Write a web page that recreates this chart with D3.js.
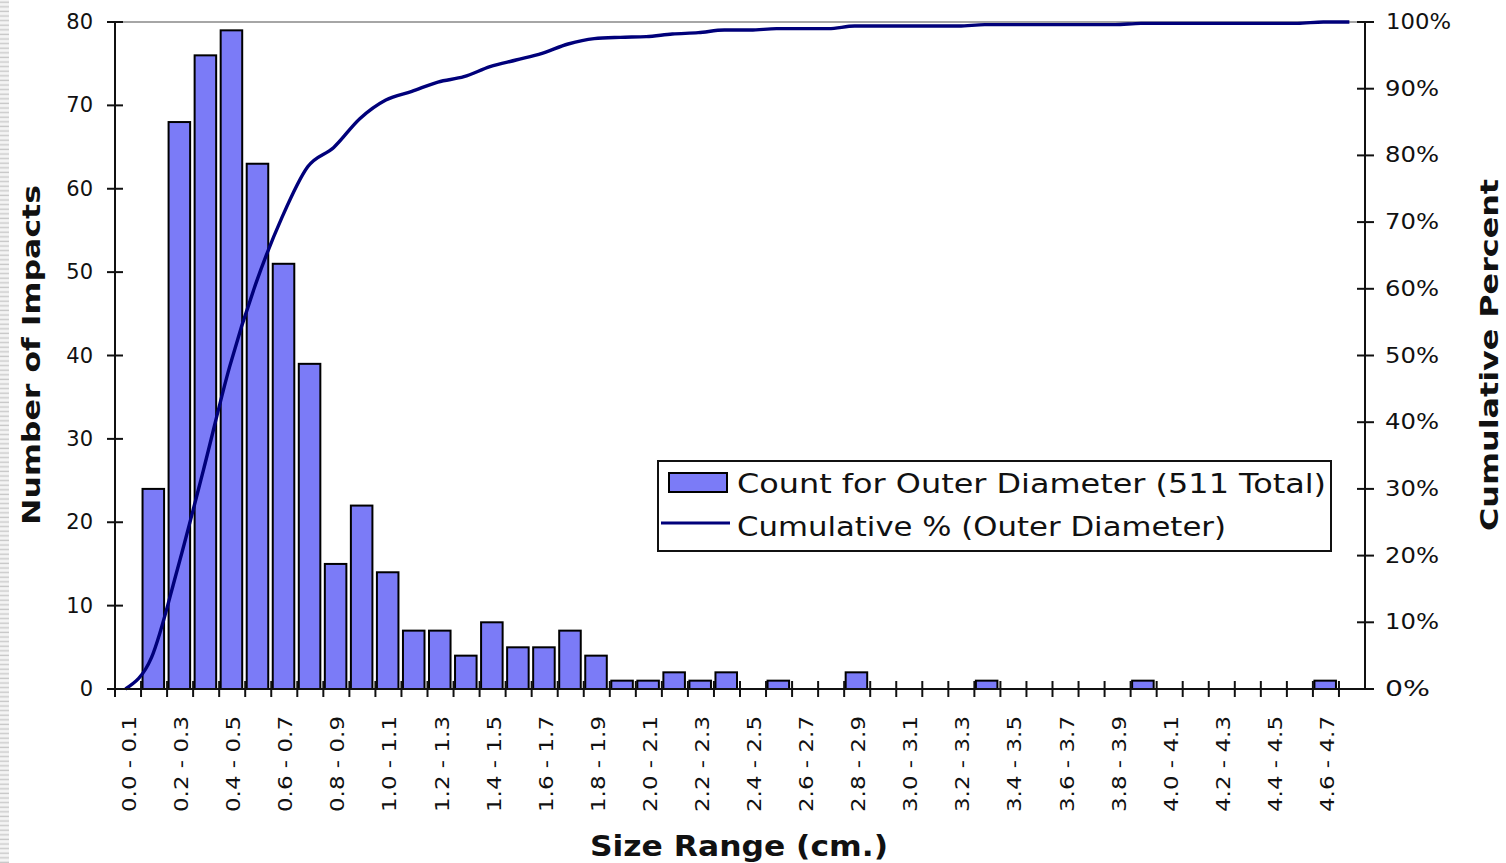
<!DOCTYPE html>
<html>
<head>
<meta charset="utf-8">
<script src="https://cdn.jsdelivr.net/npm/d3@7"></script>
<style>
  body { margin:0; background:#fff; }
  svg text { font-family: "DejaVu Sans", "Liberation Sans", sans-serif; fill:#111; }
</style>
</head>
<body>
<div id="canvas"></div>
<script>
// size ranges (cm), one per 0.1 cm bin
var categories = ['0.0 - 0.1','0.1 - 0.2','0.2 - 0.3','0.3 - 0.4','0.4 - 0.5','0.5 - 0.6','0.6 - 0.7','0.7 - 0.8',
    '0.8 - 0.9','0.9 - 1.0','1.0 - 1.1','1.1 - 1.2','1.2 - 1.3','1.3 - 1.4','1.4 - 1.5','1.5 - 1.6',
    '1.6 - 1.7','1.7 - 1.8','1.8 - 1.9','1.9 - 2.0','2.0 - 2.1','2.1 - 2.2','2.2 - 2.3','2.3 - 2.4',
    '2.4 - 2.5','2.5 - 2.6','2.6 - 2.7','2.7 - 2.8','2.8 - 2.9','2.9 - 3.0','3.0 - 3.1','3.1 - 3.2',
    '3.2 - 3.3','3.3 - 3.4','3.4 - 3.5','3.5 - 3.6','3.6 - 3.7','3.7 - 3.8','3.8 - 3.9','3.9 - 4.0',
    '4.0 - 4.1','4.1 - 4.2','4.2 - 4.3','4.3 - 4.4','4.4 - 4.5','4.5 - 4.6','4.6 - 4.7','4.7 - 4.8'];

// number of impacts per bin
var counts = [0,24,68,76,79,63,51,39,15,22,14,7,7,4,8,5,5,7,4,1,1,2,1,2,
    0,1,0,0,2,0,0,0,0,1,0,0,0,0,0,1,0,0,0,0,0,0,1,0];

// cumulative percent
var cumulative = [0,4.7,18.0,32.9,48.3,60.7,70.6,78.3,81.2,85.5,88.3,89.6,91.0,91.8,93.3,94.3,
    95.3,96.7,97.5,97.7,97.8,98.2,98.4,98.8,98.8,99.0,99.0,99.0,99.4,99.4,99.4,99.4,
    99.4,99.6,99.6,99.6,99.6,99.6,99.6,99.8,99.8,99.8,99.8,99.8,99.8,99.8,100,100];

var countTicks = [0,10,20,30,40,50,60,70,80];
var pctTicks = [0,10,20,30,40,50,60,70,80,90,100];

var W = 1506, H = 863;
var m = {t:22, r:141, b:174, l:115},
    w = W - m.l - m.r,
    h = H - m.t - m.b;

var svg = d3.select('#canvas').append('svg')
    .attr('width', W).attr('height', H);

// striped page edge on the far left
var pat = svg.append('defs').append('pattern')
    .attr('id','edge').attr('width',9).attr('height',4.6)
    .attr('patternUnits','userSpaceOnUse');
pat.append('rect').attr('width',9).attr('height',4.6).attr('fill','#f4f4f4');
pat.append('rect').attr('y',1.5).attr('width',9).attr('height',1.4).attr('fill','#c9c9c9');
svg.append('rect').attr('x',0).attr('y',0).attr('width',9).attr('height',H).attr('fill','url(#edge)');

var plot = svg.append('g').attr('transform','translate('+m.l+','+m.t+')');

var x = d3.scaleBand().domain(categories).range([0,w]).padding(0);
var y = d3.scaleLinear().domain([0,80]).range([h,0]);
var yp = d3.scaleLinear().domain([0,100]).range([h,0]);

// top frame line
plot.append('line').attr('x1',0).attr('x2',w).attr('y1',0).attr('y2',0)
    .attr('stroke','#888').attr('stroke-width',1.5);

// bars
plot.selectAll('.bar')
    .data(counts.map(function(v,i){ return {c:categories[i], v:v}; }))
    .enter().append('rect').attr('class','bar')
    .attr('x', function(d){ return x(d.c) + 1.5; })
    .attr('width', x.bandwidth() - 4.5)
    .attr('y', function(d){ return y(d.v); })
    .attr('height', function(d){ return h - y(d.v); })
    .attr('fill','#7b7bf7')
    .attr('stroke','#000').attr('stroke-width',2)
    .style('display', function(d){ return d.v > 0 ? null : 'none'; });

// cumulative line
var line = d3.line()
    .x(function(d,i){ return x(categories[i]) + x.bandwidth()*0.4; })
    .y(function(d){ return yp(d); })
    .curve(d3.curveMonotoneX);
plot.append('path').datum(cumulative)
    .attr('d', line)
    .attr('fill','none').attr('stroke','#00007a').attr('stroke-width',3.4);

// left axis
var gl = plot.append('g');
gl.append('line').attr('x1',0).attr('x2',0).attr('y1',0).attr('y2',h).attr('stroke','#111').attr('stroke-width',2);
gl.selectAll('.tk').data(countTicks).enter().append('line')
    .attr('x1',-8).attr('x2',8)
    .attr('y1',function(d){ return y(d); }).attr('y2',function(d){ return y(d); })
    .attr('stroke','#111').attr('stroke-width',2);
gl.selectAll('.lb').data(countTicks).enter().append('text')
    .attr('x',-22).attr('y',function(d){ return y(d) + 7; })
    .attr('text-anchor','end').style('font-size','21px')
    .text(function(d){ return d; });

// right axis
var gr = plot.append('g').attr('transform','translate('+w+',0)');
gr.append('line').attr('x1',0).attr('x2',0).attr('y1',0).attr('y2',h).attr('stroke','#111').attr('stroke-width',2);
gr.selectAll('.tk').data(pctTicks).enter().append('line')
    .attr('x1',-8).attr('x2',9)
    .attr('y1',function(d){ return yp(d); }).attr('y2',function(d){ return yp(d); })
    .attr('stroke','#111').attr('stroke-width',2);
gr.selectAll('.lb').data(pctTicks).enter().append('text')
    .attr('x',function(d){ return d === 100 ? 21 : 20; })
    .attr('y',function(d){ return yp(d) + 7; })
    .style('font-size','21px')
    .attr('textLength',function(d){ return d === 100 ? 65 : (d === 0 ? 45 : 54); })
    .attr('lengthAdjust','spacingAndGlyphs')
    .text(function(d){ return d + '%'; });

// bottom axis
var gb = plot.append('g').attr('transform','translate(0,'+h+')');
gb.append('line').attr('x1',0).attr('x2',w).attr('stroke','#111').attr('stroke-width',2);
gb.selectAll('.tk').data(categories).enter().append('line')
    .attr('x1',function(d){ return x(d); }).attr('x2',function(d){ return x(d); })
    .attr('y1',-8).attr('y2',8)
    .attr('stroke','#111').attr('stroke-width',2);
gb.selectAll('.lb').data(categories.filter(function(d,i){ return i % 2 === 0; }))
    .enter().append('text')
    .attr('transform',function(d){ return 'translate('+(x(d) + x.bandwidth()/2 + 8)+',27) rotate(-90)'; })
    .attr('text-anchor','end').style('font-size','20px')
    .attr('textLength',96).attr('lengthAdjust','spacingAndGlyphs')
    .text(function(d){ return d; });

// axis titles
svg.append('text')
    .attr('transform','translate(40,355) rotate(-90)')
    .attr('text-anchor','middle').style('font-size','25px').style('font-weight','bold')
    .attr('textLength',340).attr('lengthAdjust','spacingAndGlyphs')
    .text('Number of Impacts');
svg.append('text')
    .attr('transform','translate(1498,355) rotate(-90)')
    .attr('text-anchor','middle').style('font-size','25px').style('font-weight','bold')
    .attr('textLength',352).attr('lengthAdjust','spacingAndGlyphs')
    .text('Cumulative Percent');
svg.append('text')
    .attr('x',739).attr('y',856)
    .attr('text-anchor','middle').style('font-size','28px').style('font-weight','bold')
    .attr('textLength',298).attr('lengthAdjust','spacingAndGlyphs')
    .text('Size Range (cm.)');

// legend
var lg = svg.append('g').attr('transform','translate(658,461)');
lg.append('rect').attr('width',673).attr('height',90)
    .attr('fill','#fff').attr('stroke','#111').attr('stroke-width',2);
lg.append('rect').attr('x',11).attr('y',12).attr('width',58).attr('height',19)
    .attr('fill','#7b7bf7').attr('stroke','#000').attr('stroke-width',2);
lg.append('line').attr('x1',3).attr('x2',72).attr('y1',62).attr('y2',62)
    .attr('stroke','#00007a').attr('stroke-width',3.2);
lg.append('text').attr('x',79).attr('y',32).style('font-size','26px')
    .attr('textLength',589).attr('lengthAdjust','spacingAndGlyphs')
    .text('Count for Outer Diameter (511 Total)');
lg.append('text').attr('x',79).attr('y',75).style('font-size','26px')
    .attr('textLength',489).attr('lengthAdjust','spacingAndGlyphs')
    .text('Cumulative % (Outer Diameter)');
</script>
</body>
</html>
